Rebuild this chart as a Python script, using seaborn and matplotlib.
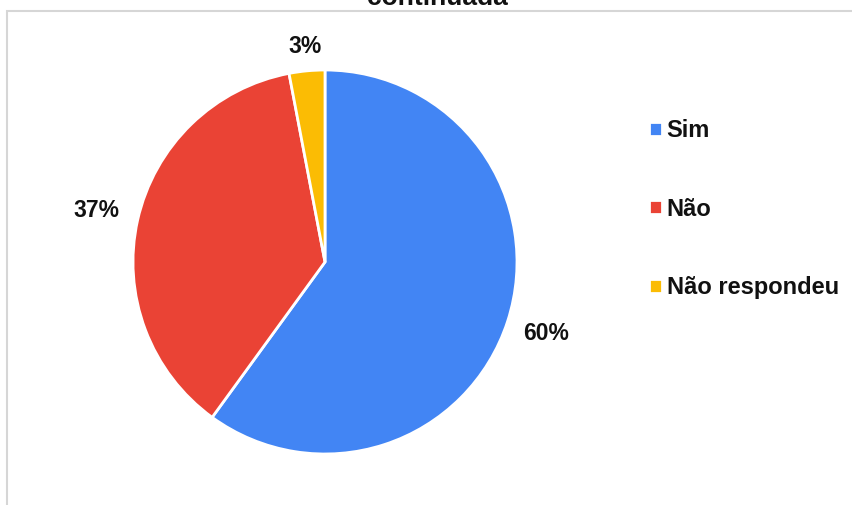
import matplotlib
matplotlib.use("Agg")
import matplotlib.pyplot as plt
from matplotlib.patches import Rectangle
import seaborn as sns
import numpy as np

# Survey answers (percent of respondents)
categories = ["Sim", "Não", "Não respondeu"]
shares = [60, 37, 3]
colors = ["#4285F4", "#EA4335", "#FBBC04"]
title_tail = "continuada"

sns.set_theme(style="white")
plt.rcParams["font.family"] = ["Liberation Sans", "DejaVu Sans"]

W, H = 853, 505
fig = plt.figure(figsize=(W / 100, H / 100), dpi=100)
fig.patch.set_facecolor("white")
ax = fig.add_axes([0, 0, 1, 1])

cx, cy, r = 325, H - 262, 192
wedges, _, autotexts = ax.pie(
    shares,
    colors=colors,
    startangle=90,
    counterclock=False,
    center=(cx, cy),
    radius=r,
    autopct=lambda p: f"{p:.0f}%",
    pctdistance=1.2,
    wedgeprops=dict(edgecolor="white", linewidth=2),
    textprops=dict(fontsize=16.5, fontweight="bold", color="#111111"),
)

# push each percentage label to its own distance from the centre
label_dist = [1.21, 1.22, 1.13]
for w, t, d in zip(wedges, autotexts, label_dist):
    mid = np.deg2rad((w.theta1 + w.theta2) / 2)
    t.set_position((cx + d * r * np.cos(mid), cy + d * r * np.sin(mid)))
    t.set_ha("center")
    t.set_va("center")

ax.set_xlim(0, W)
ax.set_ylim(0, H)
ax.set_aspect("equal")
ax.axis("off")

leg = fig.legend(
    wedges, categories,
    loc="center left",
    bbox_to_anchor=(649 / W, (H - 209) / H),
    frameon=False,
    fontsize=17,
    handlelength=0.55,
    handleheight=0.55,
    handletextpad=0.2,
    labelspacing=2.35,
    borderpad=0,
    borderaxespad=0,
)
for txt in leg.get_texts():
    txt.set_fontweight("bold")
    txt.set_color("#111111")

# chart frame (top and left edges visible)
fig.add_artist(Rectangle((7 / W, -0.1), 1.2, (H - 11) / H + 0.1,
                         transform=fig.transFigure, fill=False,
                         edgecolor="#d6d6d6", linewidth=1.5))

# title, partially above the visible area
fig.text(437 / W, (H - 5) / H, title_tail, ha="center", va="baseline",
         fontsize=19, fontweight="bold", color="#111111")

fig.savefig("out.png", dpi=100, facecolor="white")
